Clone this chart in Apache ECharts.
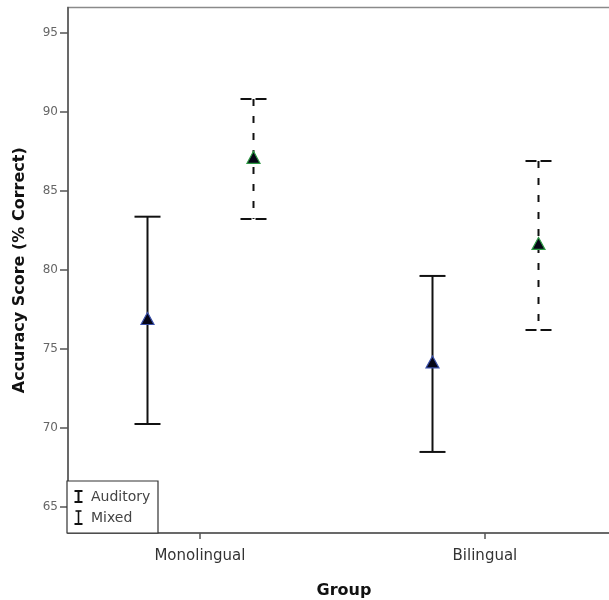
<!DOCTYPE html>
<html>
<head>
<meta charset="utf-8">
<script src="https://cdn.jsdelivr.net/npm/echarts@6/dist/echarts.min.js"></script>
<style>html,body{margin:0;padding:0;background:#fff}#c{width:609px;height:600px}</style>
</head>
<body>
<div id="c"></div>
<script>
// ---- data ----
var groups = ['Monolingual', 'Bilingual'];
var auditoryMean = [76.8, 74.05];
var auditoryLow  = [70.25, 68.48];
var auditoryHigh = [83.37, 79.62];
var mixedMean = [87.0, 81.55];
var mixedLow  = [83.23, 76.2];
var mixedHigh = [90.82, 86.9];
var yTicks = [65, 70, 75, 80, 85, 90, 95];
var legendNames = ['Auditory', 'Mixed'];

// ---- layout ----
var OFFSET = 0.185;
function build(means, lows, highs, off) {
  return groups.map(function (g, i) { return [i + 1 + off, means[i], lows[i], highs[i]]; });
}

function makeRender(dashed, edgeColor) {
  return function (params, api) {
    var x = api.value(0);
    var pm = api.coord([x, api.value(1)]);
    var pl = api.coord([x, api.value(2)]);
    var ph = api.coord([x, api.value(3)]);
    var cx = Math.round(pm[0]) + 0.5;
    var half = 13;
    var ls = { stroke: '#111', lineWidth: 2, lineDash: dashed ? [7, 10] : null };
    var cs = { stroke: '#111', lineWidth: 2, lineDash: dashed ? [11, 4] : null };
    return {
      type: 'group',
      children: [
        { type: 'line', shape: { x1: cx, y1: ph[1], x2: cx, y2: pl[1] }, style: ls },
        { type: 'line', shape: { x1: cx - half, y1: ph[1], x2: cx + half, y2: ph[1] }, style: cs },
        { type: 'line', shape: { x1: cx - half, y1: pl[1], x2: cx + half, y2: pl[1] }, style: cs },
        { type: 'polygon', shape: { points: [[cx, pm[1] - 8], [cx - 6.5, pm[1] + 4], [cx + 6.5, pm[1] + 4]] },
          style: { fill: '#050515', stroke: edgeColor, lineWidth: 1.2 } }
      ]
    };
  };
}

var chart = echarts.init(document.getElementById('c'), null, { renderer: 'canvas' });
var axisCol = '#555';
var lz = 100;
function L(x1, y1, x2, y2, w) {
  return { type: 'line', z: lz + 1, shape: { x1: x1, y1: y1, x2: x2, y2: y2 }, style: { stroke: '#111', lineWidth: w } };
}
chart.setOption({
  backgroundColor: '#fff',
  animation: false,
  grid: { left: 68, top: 7.5, width: 552, bottom: 67, outerBoundsMode: 'none', containLabel: false,
          show: true, borderColor: '#8a8a8a', borderWidth: 1.5 },
  xAxis: {
    type: 'value', min: 0.537, max: 2.474,
    name: 'Group', nameLocation: 'middle', nameGap: 50,
    nameTextStyle: { fontFamily: 'DejaVu Sans', fontWeight: 'bold', fontSize: 16, color: '#111' },
    splitLine: { show: false },
    axisLine: { show: true, lineStyle: { color: axisCol, width: 1.5 } },
    axisTick: { show: true, customValues: [1, 2], length: 6, lineStyle: { color: axisCol, width: 1.5 } },
    axisLabel: { customValues: [1, 2], margin: 16, fontFamily: 'DejaVu Sans', fontSize: 15, color: '#333',
      formatter: function (v) { return groups[Math.round(v) - 1] || ''; } }
  },
  yAxis: {
    type: 'value', min: 63.35, max: 96.61,
    name: 'Accuracy Score (% Correct)', nameLocation: 'middle', nameGap: 40,
    nameTextStyle: { fontFamily: 'DejaVu Sans', fontWeight: 'bold', fontSize: 16, color: '#111' },
    splitLine: { show: false },
    axisLine: { show: true, lineStyle: { color: axisCol, width: 1.5 } },
    axisTick: { show: true, customValues: yTicks, length: 8, lineStyle: { color: axisCol, width: 1.5 } },
    axisLabel: { customValues: yTicks, margin: 10, fontFamily: 'DejaVu Sans', fontSize: 12, color: '#666' }
  },
  series: [
    { name: legendNames[0], type: 'custom', renderItem: makeRender(false, '#3a4fa8'),
      data: build(auditoryMean, auditoryLow, auditoryHigh, -OFFSET), encode: { x: 0, y: [1, 2, 3] }, clip: false },
    { name: legendNames[1], type: 'custom', renderItem: makeRender(true, '#2e9a45'),
      data: build(mixedMean, mixedLow, mixedHigh, OFFSET), encode: { x: 0, y: [1, 2, 3] }, clip: false }
  ],
  graphic: [
    { type: 'rect', z: lz, x: 67, y: 481, shape: { x: 0, y: 0, width: 91, height: 52 }, style: { fill: '#fff', stroke: '#333', lineWidth: 1.2 } },
    L(78.5, 491, 78.5, 502, 2), L(74.5, 491, 82.5, 491, 2), L(74.5, 502, 82.5, 502, 2),
    L(78.5, 511, 78.5, 523, 1.6), L(75.5, 511, 81.5, 511, 1.6), L(74.5, 524, 82.5, 524, 2),
    { type: 'text', z: lz + 1, x: 91, y: 497, style: { text: legendNames[0], fontFamily: 'DejaVu Sans', fontSize: 14, fill: '#444', verticalAlign: 'middle' } },
    { type: 'text', z: lz + 1, x: 91, y: 518, style: { text: legendNames[1], fontFamily: 'DejaVu Sans', fontSize: 14, fill: '#444', verticalAlign: 'middle' } }
  ]
});
</script>
</body>
</html>
